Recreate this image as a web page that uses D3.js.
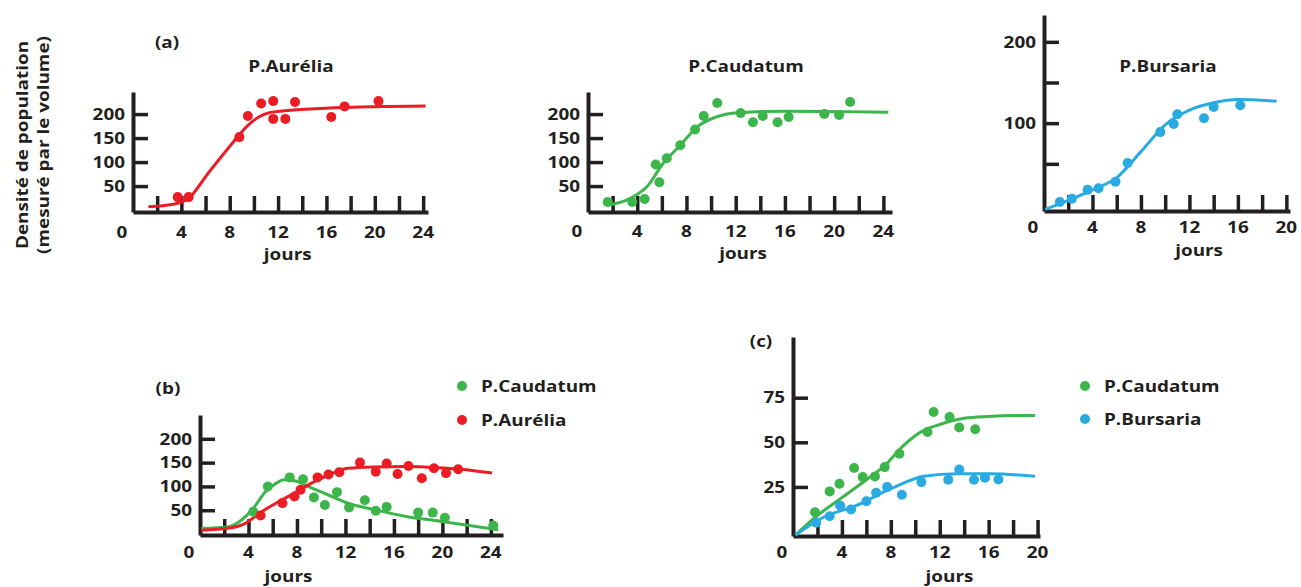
<!DOCTYPE html>
<html>
<head>
<meta charset="utf-8">
<script src="https://cdn.jsdelivr.net/npm/d3@7"></script>
<style>
  body { margin: 0; background: #fff; }
  svg { display: block; }
  text { font-family: "Open Sans", sans-serif; font-weight: 700; fill: #231f20; }
  .axis path, .axis line { stroke: #231f20; }
</style>
</head>
<body>
<svg id="chart" width="1301" height="587"></svg>
<script>
var red = '#ec1c24';
var green = '#3cb54a';
var blue = '#29abe2';

// (a) cultures séparées - [jour, densité]
var aureliaPointsA = [[3.7, 27], [4.6, 27], [8.8, 152], [9.5, 196], [10.6, 222], [11.6, 227], [11.6, 190], [12.6, 190], [13.4, 225], [16.4, 194], [17.5, 216], [20.3, 227]];
var aureliaCurveA = [[1.27, 7], [3.3, 12], [4.6, 24], [5.3, 45], [6.1, 73], [7.2, 108], [8.3, 142], [9.4, 174], [10.4, 194], [11.3, 203], [13, 208], [16.6, 213], [24.2, 217]];

var caudatumPointsA = [[1.6, 17], [3.6, 17], [4.6, 23], [5.5, 95], [5.8, 58], [6.4, 108], [7.5, 135], [8.7, 168], [9.4, 196], [10.5, 223], [12.4, 202], [13.4, 183], [14.2, 196], [15.4, 183], [16.3, 194], [19.2, 200], [20.4, 198], [21.3, 225]];
var caudatumCurveA = [[1.5, 10], [3.4, 24], [4.8, 49], [6.1, 97], [7.5, 135], [8.9, 174], [10.3, 193], [12.2, 203], [16.3, 206], [24.4, 204]];

var bursariaPointsA = [[1.3, 3], [2.3, 7], [3.6, 18], [4.5, 20], [5.9, 28], [6.9, 51], [9.6, 89], [10.7, 99], [11, 111], [13.2, 106], [14, 120], [16.2, 122]];
var bursariaCurveA = [[0.1, -6], [2, 5], [4, 18], [6, 33], [8, 65], [10, 98], [12, 116], [14, 125], [16, 129], [19.2, 127]];

// (b) P.Caudatum + P.Aurélia
var caudatumPointsB = [[4.4, 47], [5.6, 100], [7.4, 119], [8.5, 115], [9.4, 77], [10.3, 61], [11.3, 88], [12.3, 56], [13.6, 71], [14.5, 49], [15.4, 57], [18, 45], [19.2, 45], [20.2, 34], [24.2, 18]];
var caudatumCurveB = [[0.1, 12], [2.3, 15], [3.4, 29], [4.4, 54], [5.4, 89], [6.3, 107], [6.9, 114], [7.8, 112], [8.9, 100], [10.6, 82], [12.2, 65], [14.3, 52], [17, 37], [19.8, 27], [22.5, 17], [24.6, 9]];
var aureliaPointsB = [[5, 39], [6.8, 65], [7.8, 79], [8.3, 93], [9.7, 119], [10.6, 125], [11.5, 130], [13.2, 150], [14.5, 131], [15.4, 148], [16.3, 126], [17.2, 143], [18.3, 117], [19.3, 138], [20.3, 128], [21.3, 136]];
var aureliaCurveB = [[0.1, 8], [2.3, 12], [3.7, 22], [5.1, 47], [6.5, 68], [7.8, 86], [9.2, 107], [10.6, 124], [12.2, 138], [14.3, 141], [17.1, 142], [19.8, 139], [22.6, 133], [24.1, 128]];

// (c) P.Caudatum + P.Bursaria
var caudatumPointsC = [[1.8, 10.8], [3, 22.5], [3.8, 26.8], [5, 35.6], [5.7, 30.5], [6.7, 30.9], [7.5, 36.1], [8.7, 43.6], [11, 55.8], [11.5, 67], [12.8, 64.2], [13.6, 58.3], [14.9, 57.3]];
var caudatumCurveC = [[0.2, -2], [2, 9], [4, 19], [6, 29], [7.5, 37], [9, 48], [10.5, 56], [12, 60], [14, 63.5], [16, 64.5], [18, 65], [19.8, 65]];
var bursariaPointsC = [[1.9, 4.9], [3, 8.6], [3.85, 14.6], [4.75, 12.4], [6, 17], [6.8, 21.7], [7.7, 24.9], [8.9, 20.6], [10.5, 27.7], [12.7, 29], [13.6, 34.7], [14.8, 29], [15.7, 30.2], [16.8, 29.2]];
var bursariaCurveC = [[0.2, -2], [2.5, 8], [5.2, 14.6], [8, 24], [10.7, 31], [13.4, 32.4], [16.1, 32.4], [19.8, 31]];

var xLabels24 = [0, 4, 8, 12, 16, 20, 24];
var xLabels20 = [0, 4, 8, 12, 16, 20];
var xTicks24 = d3.range(2, 25, 2);
var xTicks20 = d3.range(2, 21, 2);
var yTicks200 = [50, 100, 150, 200];
var yLabels200 = [50, 100, 150, 200];
var yLabelsBursaria = [100, 200];
var yTicks75 = [25, 50, 75];

var panels = [
    { x: [133, 428], xMax: 24.4, y: [212, 92], yDomain: [-4, 246], xTicks: xTicks24, xLabels: xLabels24,
      yTicks: yTicks200, yLabels: yLabels200, labelBase: 238, joursY: 260, joursDay: 12.8,
      series: [{ points: aureliaPointsA, curve: aureliaCurveA, color: red }] },
    { x: [588, 892], xMax: 24.7, y: [212, 92], yDomain: [-4, 246], xTicks: xTicks24, xLabels: xLabels24,
      yTicks: yTicks200, yLabels: yLabels200, labelBase: 237, joursY: 259, joursDay: 12.6,
      series: [{ points: caudatumPointsA, curve: caudatumCurveA, color: green }] },
    { x: [1044, 1290], xMax: 20.3, y: [211, 15], yDomain: [-8, 233], xTicks: xTicks20, xLabels: xLabels20,
      yTicks: yTicks200, yLabels: yLabelsBursaria, labelBase: 233, joursY: 256, joursDay: 12.8,
      series: [{ points: bursariaPointsA, curve: bursariaCurveA, color: blue }] },
    { x: [200, 503], xMax: 25, y: [535, 415], yDomain: [-2, 250], xTicks: xTicks24, xLabels: xLabels24,
      yTicks: yTicks200, yLabels: yLabels200, labelBase: 558, joursY: 582, joursDay: 7.3,
      series: [{ points: caudatumPointsB, curve: caudatumCurveB, color: green },
               { points: aureliaPointsB, curve: aureliaCurveB, color: red }] },
    { x: [793, 1040], xMax: 20.2, y: [536, 337], yDomain: [-2.5, 109], xTicks: xTicks20, xLabels: xLabels20,
      yTicks: yTicks75, yLabels: yTicks75, labelBase: 558, joursY: 582, joursDay: 12.8,
      series: [{ points: caudatumPointsC, curve: caudatumCurveC, color: green },
               { points: bursariaPointsC, curve: bursariaCurveC, color: blue }] }
];

var svg = d3.select('#chart');

function drawPanel(p) {
    var x = d3.scaleLinear().domain([0, p.xMax]).range(p.x);
    var y = d3.scaleLinear().domain(p.yDomain).range(p.y);
    var g = svg.append('g');

    // x ticks (pointing up) + axis line
    g.append('g')
        .attr('class', 'axis')
        .attr('transform', 'translate(0,' + p.y[0] + ')')
        .call(d3.axisBottom(x).tickValues(p.xTicks).tickSizeInner(-16).tickSizeOuter(0).tickFormat(''))
        .call(function(a) {
            a.select('.domain').attr('stroke-width', 4);
            a.selectAll('.tick line').attr('stroke-width', 3.5);
        });

    // x labels
    g.append('g')
        .selectAll('text')
        .data(p.xLabels)
        .join('text')
        .attr('class', 'lbl')
        .attr('x', function(d) { return x(d) + (d === 0 ? -11 : 0); })
        .attr('y', p.labelBase)
        .attr('text-anchor', 'middle')
        .style('font-size', '16px')
        .text(function(d) { return d; });

    // y axis with ticks to the right
    g.append('g')
        .attr('class', 'axis')
        .attr('transform', 'translate(' + p.x[0] + ',0)')
        .call(d3.axisLeft(y).tickValues(p.yTicks).tickSizeInner(-15).tickSizeOuter(0).tickFormat(''))
        .call(function(a) {
            a.select('.domain').attr('stroke-width', 4);
            a.selectAll('.tick line').attr('stroke-width', 3.5);
        });

    g.append('g')
        .selectAll('text')
        .data(p.yLabels)
        .join('text')
        .attr('class', 'lbl')
        .attr('x', p.x[0] - 8)
        .attr('y', function(d) { return y(d); })
        .attr('dy', '0.36em')
        .attr('text-anchor', 'end')
        .style('font-size', '16px')
        .text(function(d) { return d; });

    g.append('text')
        .attr('class', 'lbl')
        .attr('x', x(p.joursDay))
        .attr('y', p.joursY)
        .attr('text-anchor', 'middle')
        .style('font-size', '16px')
        .text('jours');

    var line = d3.line()
        .x(function(d) { return x(d[0]); })
        .y(function(d) { return y(d[1]); })
        .curve(d3.curveMonotoneX);

    p.series.forEach(function(s) {
        g.append('path')
            .datum(s.curve)
            .attr('d', line)
            .attr('fill', 'none')
            .attr('stroke', s.color)
            .attr('stroke-width', 3);
    });
    p.series.forEach(function(s) {
        g.append('g')
            .selectAll('circle')
            .data(s.points)
            .join('circle')
            .attr('cx', function(d) { return x(d[0]); })
            .attr('cy', function(d) { return y(d[1]); })
            .attr('r', 5)
            .attr('fill', s.color);
    });
}

panels.forEach(drawPanel);

// titres
var titles = [
    { t: '(a)', x: 167, y: 48 },
    { t: 'P.Aurélia', x: 291, y: 72 },
    { t: 'P.Caudatum', x: 746, y: 72 },
    { t: 'P.Bursaria', x: 1168, y: 72 },
    { t: '(b)', x: 168, y: 394 },
    { t: '(c)', x: 761, y: 347 }
];
svg.selectAll('text.title')
    .data(titles)
    .join('text')
    .attr('class', 'title lbl')
    .attr('x', function(d) { return d.x; })
    .attr('y', function(d) { return d.y; })
    .attr('text-anchor', 'middle')
    .style('font-size', '16px')
    .text(function(d) { return d.t; });

// légendes
var legends = [
    { x: 462, y: 386, color: green, t: 'P.Caudatum' },
    { x: 462, y: 420, color: red, t: 'P.Aurélia' },
    { x: 1085, y: 386, color: green, t: 'P.Caudatum' },
    { x: 1085, y: 419, color: blue, t: 'P.Bursaria' }
];
var leg = svg.selectAll('g.legend')
    .data(legends)
    .join('g')
    .attr('class', 'legend')
    .attr('transform', function(d) { return 'translate(' + d.x + ',' + d.y + ')'; });
leg.append('circle').attr('r', 5).attr('fill', function(d) { return d.color; });
leg.append('text')
    .attr('class', 'lbl')
    .attr('x', 19)
    .attr('dy', '0.36em')
    .style('font-size', '16px')
    .text(function(d) { return d.t; });

// titre de l'axe y
var yTitle = svg.append('text')
    .attr('transform', 'translate(0,145) rotate(-90)')
    .attr('text-anchor', 'middle')
    .style('font-size', '16px');
yTitle.append('tspan').attr('class', 'lbl').attr('x', 0).attr('y', 28).text('Densité de population');
yTitle.append('tspan').attr('class', 'lbl').attr('x', 0).attr('y', 49).text('(mesuré par le volume)');

// le texte de la figure est un peu élargi horizontalement
svg.selectAll('.lbl').each(function() {
    var len = this.getComputedTextLength();
    d3.select(this).attr('textLength', len * 1.18).attr('lengthAdjust', 'spacingAndGlyphs');
});
</script>
</body>
</html>
